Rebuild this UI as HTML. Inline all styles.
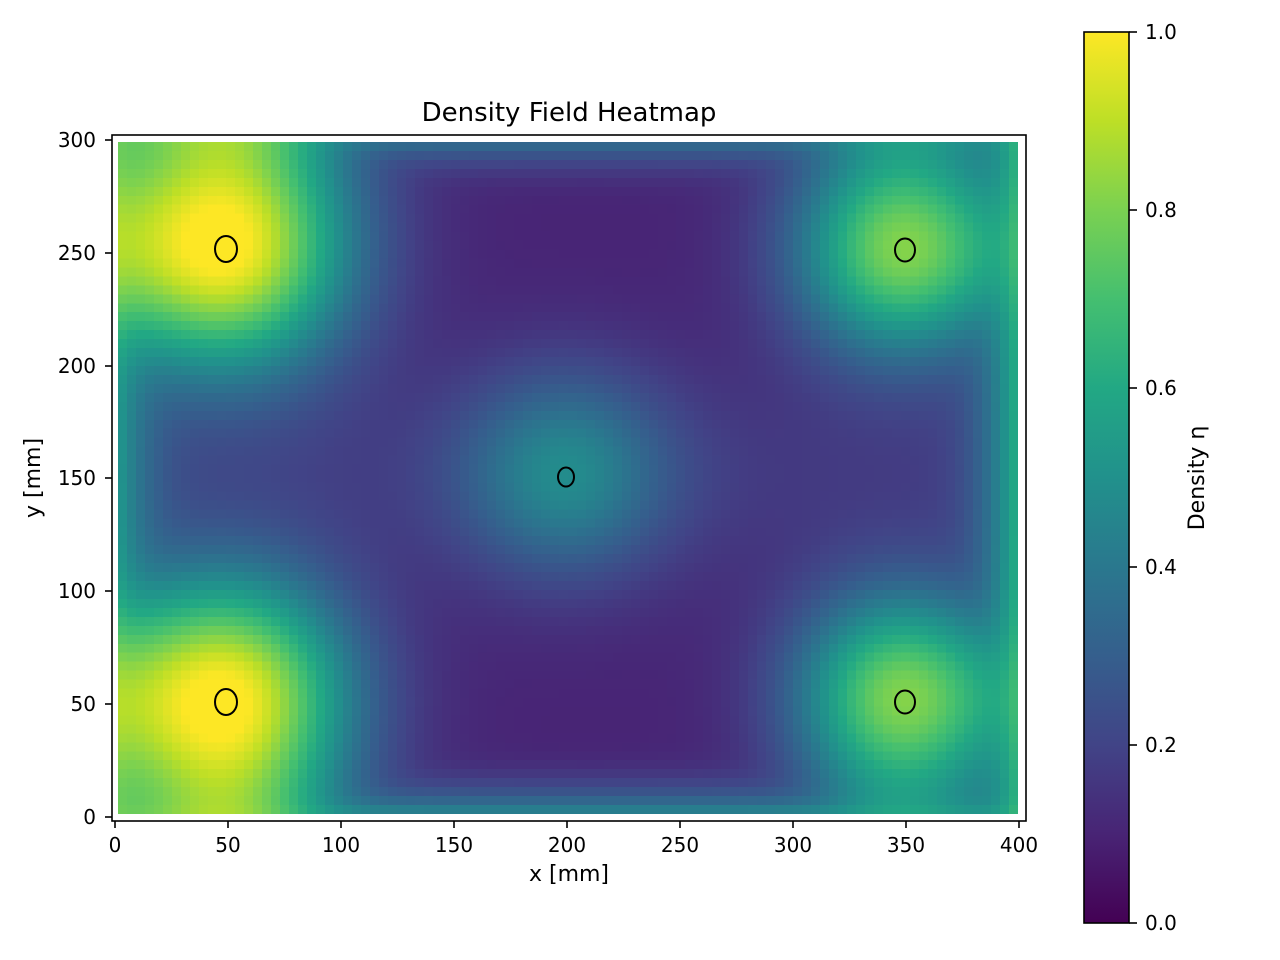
<!DOCTYPE html>
<html><head><meta charset="utf-8"><style>
html,body{margin:0;padding:0;background:#fff;width:1280px;height:960px;overflow:hidden}
#c{position:absolute;left:118px;top:142px;width:900px;height:672px;image-rendering:pixelated}
svg{position:absolute;left:0;top:0}
text{font-family:"DejaVu Sans","Liberation Sans",sans-serif;fill:#000}
</style></head><body>
<canvas id="c" width="100" height="75"></canvas>
<svg width="1280" height="960" viewBox="0 0 1280 960">
<defs><linearGradient id="vir" x1="0" y1="1" x2="0" y2="0">
<stop offset="0" stop-color="#440154"/><stop offset="0.1" stop-color="#482475"/><stop offset="0.2" stop-color="#414487"/><stop offset="0.3" stop-color="#355f8d"/><stop offset="0.4" stop-color="#2a788e"/><stop offset="0.5" stop-color="#21918c"/><stop offset="0.6" stop-color="#22a884"/><stop offset="0.7" stop-color="#44bf70"/><stop offset="0.8" stop-color="#7ad151"/><stop offset="0.9" stop-color="#bddf26"/><stop offset="1" stop-color="#fde725"/>
</linearGradient></defs>
<g fill="none" stroke="#000" stroke-width="2">
<ellipse cx="226" cy="249" rx="11" ry="13"/>
<ellipse cx="226" cy="702" rx="11" ry="13"/>
<ellipse cx="905" cy="250" rx="10" ry="11.5"/>
<ellipse cx="905" cy="702" rx="10" ry="11.5"/>
<ellipse cx="566" cy="477" rx="8" ry="9.5"/>
</g>
<rect x="112" y="135" width="914" height="686" fill="none" stroke="#000" stroke-width="1.6"/>
<g stroke="#000" stroke-width="1.6">
<line x1="115" y1="821" x2="115" y2="828"/><line x1="228" y1="821" x2="228" y2="828"/><line x1="341" y1="821" x2="341" y2="828"/><line x1="454" y1="821" x2="454" y2="828"/><line x1="567" y1="821" x2="567" y2="828"/><line x1="680" y1="821" x2="680" y2="828"/><line x1="793" y1="821" x2="793" y2="828"/><line x1="906" y1="821" x2="906" y2="828"/><line x1="1019" y1="821" x2="1019" y2="828"/>
<line x1="105" y1="817" x2="112" y2="817"/><line x1="105" y1="704" x2="112" y2="704"/><line x1="105" y1="591" x2="112" y2="591"/><line x1="105" y1="478" x2="112" y2="478"/><line x1="105" y1="366" x2="112" y2="366"/><line x1="105" y1="253" x2="112" y2="253"/><line x1="105" y1="140" x2="112" y2="140"/>
</g>
<g font-size="20" text-anchor="middle">
<text x="115" y="852">0</text><text x="228" y="852">50</text><text x="341" y="852">100</text><text x="454" y="852">150</text><text x="567" y="852">200</text><text x="680" y="852">250</text><text x="793" y="852">300</text><text x="906" y="852">350</text><text x="1019" y="852">400</text>
</g>
<g font-size="20" text-anchor="end">
<text x="96" y="824">0</text><text x="96" y="711">50</text><text x="96" y="598">100</text><text x="96" y="485">150</text><text x="96" y="373">200</text><text x="96" y="260">250</text><text x="96" y="147">300</text>
</g>
<text x="569" y="881" font-size="22" text-anchor="middle">x [mm]</text>
<text transform="translate(40,478) rotate(-90)" font-size="22" text-anchor="middle">y [mm]</text>
<text x="569" y="121" font-size="26" text-anchor="middle">Density Field Heatmap</text>
<rect x="1084" y="32" width="45" height="891" fill="url(#vir)" stroke="#000" stroke-width="1.6"/>
<g stroke="#000" stroke-width="1.6">
<line x1="1129" y1="923" x2="1137" y2="923"/><line x1="1129" y1="745" x2="1137" y2="745"/><line x1="1129" y1="567" x2="1137" y2="567"/><line x1="1129" y1="388" x2="1137" y2="388"/><line x1="1129" y1="210" x2="1137" y2="210"/><line x1="1129" y1="32" x2="1137" y2="32"/>
</g>
<g font-size="20">
<text x="1145" y="930">0.0</text><text x="1145" y="752">0.2</text><text x="1145" y="574">0.4</text><text x="1145" y="395">0.6</text><text x="1145" y="217">0.8</text><text x="1145" y="39">1.0</text>
</g>
<text transform="translate(1204,478) rotate(-90)" font-size="22" text-anchor="middle">Density η</text>
</svg>
<script>
var V=[[68,1,84],[72,36,117],[65,68,135],[53,95,141],[42,120,142],[33,145,140],[34,168,132],[68,191,112],[122,209,81],[189,223,38],[253,231,37]];
function col(v){v=Math.max(0,Math.min(1,v))*10;var i=Math.min(9,Math.floor(v)),f=v-i,a=V[i],b=V[i+1];return[a[0]+(b[0]-a[0])*f,a[1]+(b[1]-a[1])*f,a[2]+(b[2]-a[2])*f];}
function g(x,y,cx,cy,s){var d=(x-cx)*(x-cx)+(y-cy)*(y-cy);return Math.exp(-d/(2*s*s));}
function refl(x,y,cx,cy,s){var t=0,xs=[cx,-cx,800-cx],ys=[cy,-cy,600-cy];for(var a=0;a<3;a++)for(var b=0;b<3;b++)t+=g(x,y,xs[a],ys[b],s);return t;}
var c=document.getElementById('c'),ctx=c.getContext('2d'),W=100,H=75,img=ctx.createImageData(W,H);
for(var j=0;j<H;j++)for(var i=0;i<W;i++){
var x=1.5+(i+0.5)*4,y=298-(j+0.5)*4;
var v0=0.1;
v0+=0.88*(refl(x,y,50,50,38)+refl(x,y,50,250,38));
v0+=0.7*(refl(x,y,350,50,33)+refl(x,y,350,250,33));
v0+=0.32*g(x,y,200,150,32);
v0+=0.06*Math.exp(-(y-150)*(y-150)/(2*35*35));
var e1=0.56*Math.exp(-x/28),e2=0.6*Math.exp(-(400-x)/24),e3=0.42*Math.exp(-y/16),e4=0.42*Math.exp(-(300-y)/16);
var p=4,v=Math.pow(Math.pow(Math.min(v0,1.05),p)+Math.pow(e1,p)+Math.pow(e2,p)+Math.pow(e3,p)+Math.pow(e4,p),1/p);
if(v>1)v=1;
var k=(j*W+i)*4,cc=col(v);img.data[k]=cc[0];img.data[k+1]=cc[1];img.data[k+2]=cc[2];img.data[k+3]=255;}
ctx.putImageData(img,0,0);
</script>
</body></html>
